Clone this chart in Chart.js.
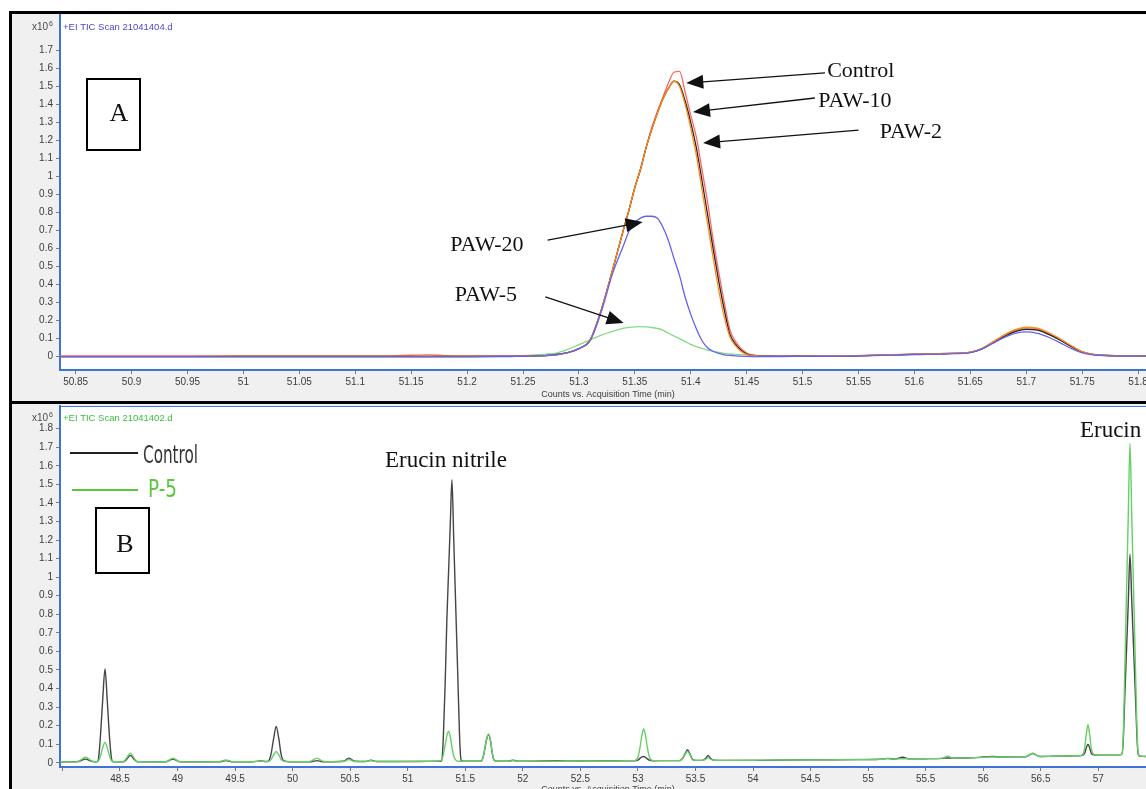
<!DOCTYPE html>
<html><head><meta charset="utf-8">
<script src="https://cdn.jsdelivr.net/npm/chart.js@4.4.1/dist/chart.umd.min.js"></script>
<style>
html,body{margin:0;padding:0;width:1146px;height:789px;overflow:hidden;background:#fff;}
.panel{position:absolute;left:9px;background:#f0f0f0;border-left:3px solid #000;border-top:3px solid #000;width:1160px;overflow:hidden;}
#pa{top:11px;height:387px;}
#pb{top:401px;height:400px;}
canvas{position:absolute;left:0;top:0;}
</style></head><body>
<div class="panel" id="pa"><canvas id="ca" width="1144" height="386"></canvas></div>
<div class="panel" id="pb"><canvas id="cb" width="1144" height="391"></canvas></div>
<script>
// ---------------- Panel A data (x10^6 counts vs time, min) ----------------
const timeA = [50.836,50.9,51.0,51.1,51.13,51.15,51.165,51.18,51.2,51.24,51.26,51.27,51.28,51.29,51.30,51.31,51.32,51.33,51.34,51.345,51.35,51.355,51.36,51.365,51.37,51.375,51.38,51.385,51.39,51.395,51.40,51.405,51.41,51.415,51.42,51.425,51.43,51.435,51.44,51.45,51.46,51.47,51.48,51.5,51.55,51.6,51.63,51.65,51.66,51.67,51.68,51.69,51.70,51.71,51.72,51.73,51.74,51.75,51.76,51.77,51.78,51.8,51.817];
const controlA = [0.004,0.004,0.004,0.004,0.005,0.008,0.01,0.006,0.004,0.004,0.004,0.006,0.012,0.022,0.045,0.092,0.26,0.48,0.71,0.82,0.94,1.04,1.16,1.27,1.36,1.44,1.52,1.58,1.585,1.47,1.34,1.22,1.04,0.86,0.65,0.47,0.3,0.15,0.085,0.02,0.006,0.004,0.004,0.004,0.006,0.014,0.018,0.025,0.044,0.08,0.117,0.146,0.16,0.155,0.131,0.098,0.06,0.027,0.013,0.008,0.006,0.005,0.005];
const paw2A = [0,0,0.001,0.001,0.001,0.001,0.001,0.001,0.001,0.002,0.003,0.006,0.012,0.022,0.045,0.092,0.26,0.48,0.71,0.82,0.94,1.04,1.16,1.26,1.35,1.43,1.49,1.53,1.5,1.4,1.27,1.12,0.93,0.74,0.55,0.37,0.22,0.11,0.06,0.012,0.005,0.003,0.002,0.003,0.006,0.014,0.018,0.025,0.045,0.082,0.12,0.15,0.164,0.158,0.133,0.1,0.062,0.028,0.013,0.008,0.006,0.005,0.005];
const paw10A = [0,0,0.001,0.001,0.001,0.001,0.001,0.001,0.001,0.002,0.003,0.006,0.012,0.022,0.045,0.092,0.26,0.48,0.71,0.82,0.94,1.04,1.16,1.26,1.35,1.43,1.49,1.53,1.51,1.42,1.3,1.16,0.98,0.79,0.6,0.42,0.26,0.125,0.07,0.015,0.005,0.003,0.002,0.003,0.005,0.013,0.017,0.024,0.042,0.076,0.111,0.139,0.152,0.147,0.124,0.093,0.057,0.026,0.012,0.007,0.005,0.004,0.004];
const paw20A = [0,0,0,0,0,0,0,0,0,0.001,0.003,0.006,0.012,0.022,0.045,0.09,0.25,0.46,0.62,0.70,0.745,0.77,0.78,0.78,0.77,0.72,0.645,0.545,0.45,0.33,0.235,0.155,0.09,0.05,0.03,0.018,0.01,0.007,0.005,0.002,0.001,0.001,0.001,0.002,0.004,0.012,0.016,0.023,0.042,0.074,0.106,0.13,0.138,0.13,0.108,0.078,0.046,0.021,0.01,0.006,0.004,0.003,0.003];
const paw5A = [0,0,0,0,0,0,0,0,0,0.004,0.01,0.014,0.02,0.04,0.067,0.093,0.12,0.14,0.158,0.163,0.166,0.167,0.165,0.162,0.157,0.148,0.13,0.115,0.1,0.084,0.068,0.056,0.046,0.037,0.03,0.024,0.018,0.015,0.013,0.01,0.006,0.003,0.002,0.003,0.005,0.014,0.018,0.025,0.043,0.078,0.113,0.142,0.155,0.15,0.127,0.095,0.058,0.027,0.013,0.008,0.006,0.005,0.005];

// ---------------- Panel B data ----------------
const timeB = [47.979,48.08,48.14,48.2,48.26,48.3,48.315,48.33,48.35,48.37,48.39,48.41,48.425,48.44,48.53,48.56,48.59,48.62,48.65,48.75,48.9,48.96,49.02,49.15,49.36,49.42,49.48,49.65,49.72,49.77,49.79,49.81,49.835,49.857,49.88,49.9,49.925,49.97,50.1,50.16,50.21,50.26,50.35,50.44,50.49,50.54,50.63,50.68,50.73,50.9,51.1,51.25,51.28,51.29,51.30,51.31,51.325,51.34,51.355,51.37,51.384,51.40,51.42,51.435,51.45,51.46,51.47,51.52,51.6,51.64,51.655,51.67,51.685,51.703,51.72,51.735,51.75,51.77,51.86,51.915,51.97,52.1,52.3,52.5,52.7,52.9,52.97,53.0,53.02,53.035,53.05,53.065,53.08,53.1,53.13,53.25,53.36,53.39,53.41,53.43,53.45,53.47,53.5,53.56,53.59,53.61,53.63,53.66,53.75,54.0,54.3,54.6,54.9,55.1,55.17,55.23,55.3,55.36,55.5,55.64,55.69,55.74,55.9,56.0,56.08,56.15,56.25,56.37,56.43,56.49,56.6,56.75,56.83,56.86,56.88,56.895,56.91,56.925,56.94,56.97,57.05,57.15,57.2,57.215,57.23,57.245,57.26,57.275,57.29,57.305,57.32,57.335,57.345,57.36,57.42,57.5];
const controlB = [0.005,0.005,0.007,0.02,0.007,0.006,0.03,0.14,0.34,0.505,0.33,0.13,0.03,0.006,0.006,0.02,0.04,0.02,0.006,0.005,0.006,0.02,0.006,0.005,0.005,0.012,0.005,0.006,0.01,0.007,0.01,0.04,0.13,0.196,0.13,0.045,0.01,0.006,0.006,0.006,0.012,0.006,0.006,0.008,0.025,0.008,0.007,0.014,0.007,0.007,0.007,0.008,0.008,0.009,0.03,0.15,0.42,0.77,1.03,1.29,1.525,1.2,0.78,0.47,0.15,0.03,0.01,0.008,0.008,0.01,0.03,0.075,0.125,0.152,0.115,0.05,0.015,0.009,0.008,0.014,0.008,0.009,0.011,0.01,0.011,0.011,0.011,0.015,0.025,0.032,0.034,0.03,0.022,0.014,0.011,0.012,0.012,0.025,0.05,0.07,0.05,0.022,0.013,0.013,0.025,0.04,0.025,0.014,0.013,0.013,0.015,0.016,0.017,0.019,0.024,0.02,0.03,0.021,0.022,0.024,0.026,0.025,0.027,0.031,0.034,0.031,0.032,0.033,0.05,0.034,0.035,0.037,0.038,0.04,0.05,0.08,0.1,0.08,0.05,0.042,0.043,0.043,0.044,0.1,0.36,0.61,0.86,1.124,0.88,0.64,0.4,0.15,0.05,0.036,0.034,0.034];
const p5B = [0.005,0.005,0.008,0.03,0.008,0.006,0.012,0.035,0.08,0.11,0.08,0.035,0.012,0.006,0.007,0.028,0.052,0.028,0.007,0.005,0.006,0.025,0.006,0.005,0.006,0.015,0.006,0.006,0.009,0.006,0.008,0.016,0.042,0.061,0.042,0.018,0.008,0.006,0.006,0.009,0.025,0.009,0.006,0.007,0.017,0.007,0.007,0.012,0.007,0.007,0.008,0.008,0.01,0.014,0.022,0.045,0.095,0.145,0.17,0.14,0.085,0.035,0.013,0.009,0.008,0.008,0.008,0.008,0.008,0.01,0.03,0.078,0.128,0.156,0.118,0.052,0.016,0.009,0.008,0.012,0.008,0.009,0.009,0.01,0.01,0.011,0.012,0.03,0.09,0.15,0.182,0.15,0.09,0.03,0.012,0.012,0.012,0.023,0.045,0.062,0.045,0.02,0.013,0.013,0.02,0.028,0.02,0.014,0.013,0.014,0.015,0.016,0.018,0.019,0.022,0.02,0.022,0.021,0.022,0.024,0.036,0.025,0.027,0.029,0.032,0.031,0.032,0.033,0.052,0.034,0.035,0.037,0.038,0.042,0.075,0.15,0.205,0.15,0.075,0.043,0.043,0.043,0.044,0.12,0.5,0.92,1.33,1.72,1.34,0.96,0.58,0.2,0.06,0.037,0.034,0.034];

// ---------------- axis ranges, ticks, annotations ----------------
const xRangeA = [50.836, 51.816], yRangeA = [-0.074, 1.898];
const xRangeB = [47.979, 57.501], yRangeB = [-0.0226, 1.922];
const xStepA = 0.05, xStepB = 0.5, yStep = 0.1;
const yTopTickA = 1.7, yTopTickB = 1.8;
const seriesNamesA = ['PAW-20','PAW-2','PAW-10','Control','PAW-5'];
const labelTextA = ['Control','PAW-10','PAW-2','PAW-20','PAW-5'];
const labelPosA = [[51.522,1.554],[51.514,1.387],[51.569,1.215],[51.185,0.587],[51.189,0.31]];
const arrowTailA = [[51.52,1.576],[51.511,1.437],[51.55,1.259],[51.272,0.648],[51.27,0.332]];
const arrowTipA = [[51.396,1.52],[51.402,1.359],[51.411,1.187],[51.357,0.748],[51.34,0.187]];
const seriesNamesB = ['P-5','Control'];
const peakTextB = ['Erucin nitrile','Erucin'];
const peakPosB = [[50.802,1.594],[56.84,1.755]];

const SANS = 'Liberation Sans, Arial, sans-serif';
const SERIF = 'Liberation Serif, Times New Roman, serif';
const NARROW = 'Liberation Sans Narrow, DejaVu Sans Condensed, Liberation Sans, sans-serif';
const toXY = (ts, vs) => ts.map((t, i) => ({x: t, y: vs[i]}));

function opts(xr, yr, xStep, xFmt, yTop, xAxisH, padTop) {
  return {
    responsive: false, animation: false, devicePixelRatio: 1, events: [],
    layout: {padding: {top: padTop, left: 0, right: 0, bottom: 0}},
    plugins: {legend: {display: false}, tooltip: {enabled: false}},
    elements: {point: {radius: 0, hoverRadius: 0}, line: {cubicInterpolationMode: 'monotone', fill: false}},
    scales: {
      x: {type: 'linear', position: 'bottom', min: xr[0], max: xr[1],
        afterFit: s => { s.height = xAxisH; s.paddingLeft = 0; s.paddingRight = 0; },
        ticks: {stepSize: xStep, includeBounds: false, autoSkip: false, maxTicksLimit: 100, maxRotation: 0, minRotation: 0, padding: 2,
          color: '#3c3c3c', font: {family: SANS, size: 10}, callback: xFmt},
        grid: {drawOnChartArea: false, drawTicks: true, tickLength: 4, color: '#7a7a7a'},
        border: {display: true, color: '#3f74d6', width: 2},
        title: {display: true, text: 'Counts vs. Acquisition Time (min)', color: '#3c3c3c', font: {family: SANS, size: 9}, padding: {top: 0, bottom: 0}}},
      y: {type: 'linear', position: 'left', min: yr[0], max: yr[1],
        afterFit: s => { s.width = 48; s.paddingTop = 0; s.paddingBottom = 0; },
        afterBuildTicks: s => { s.ticks = s.ticks.filter(t => t.value <= yTop + 1e-6); },
        ticks: {stepSize: yStep, includeBounds: false, autoSkip: false, maxTicksLimit: 100, padding: 3,
          color: '#3c3c3c', font: {family: SANS, size: 10}, callback: v => String(Math.round(v * 10) / 10)},
        grid: {drawOnChartArea: false, drawTicks: true, tickLength: 4, color: '#7a7a7a'},
        border: {display: true, color: '#3f74d6', width: 2}}
    }
  };
}

function arrow(ctx, x1, y1, x2, y2) {
  const a = Math.atan2(y2 - y1, x2 - x1), L = 17, W = 7;
  const c = Math.cos(a), s = Math.sin(a);
  ctx.beginPath(); ctx.moveTo(x1, y1); ctx.lineTo(x2 - L * 0.8 * c, y2 - L * 0.8 * s); ctx.stroke();
  ctx.beginPath(); ctx.moveTo(x2, y2);
  ctx.lineTo(x2 - L * c + W * s, y2 - L * s - W * c);
  ctx.lineTo(x2 - L * c - W * s, y2 - L * s + W * c);
  ctx.closePath(); ctx.fill();
}

function header(ctx, ca, fileText, fileColor) {
  ctx.fillStyle = '#4a4a4a'; ctx.textBaseline = 'middle';
  ctx.font = '10px ' + SANS; ctx.textAlign = 'right';
  ctx.fillText('x10', ca.left - 12, ca.top + 12);
  ctx.font = '7px ' + SANS; ctx.textAlign = 'left';
  ctx.fillText('6', ca.left - 11, ca.top + 9);
  ctx.font = '9.5px ' + SANS; ctx.fillStyle = fileColor;
  ctx.fillText(fileText, ca.left + 3, ca.top + 12);
}

function boxLetter(ctx, ca, bx, by, bw, bh, letter, lx, ly) {
  ctx.fillStyle = '#fff'; ctx.fillRect(ca.left + bx, ca.top + by, bw, bh);
  ctx.strokeStyle = '#000'; ctx.lineWidth = 2; ctx.strokeRect(ca.left + bx, ca.top + by, bw, bh);
  ctx.fillStyle = '#111'; ctx.font = '26px ' + SERIF; ctx.textAlign = 'center'; ctx.textBaseline = 'middle';
  ctx.fillText(letter, ca.left + lx, ca.top + ly);
}

const plotBg = {id: 'plotBg', beforeDraw(chart) {
  const {ctx, chartArea: ca} = chart; ctx.save(); ctx.fillStyle = '#fff';
  ctx.fillRect(ca.left, ca.top, ca.right - ca.left, ca.bottom - ca.top); ctx.restore();
}};

const decoA = {id: 'decoA', afterDraw(chart) {
  const {ctx, chartArea: ca, scales: {x, y}} = chart; ctx.save();
  header(ctx, ca, '+EI TIC Scan 21041404.d', '#4848d8');
  boxLetter(ctx, ca, 27, 64, 53, 71, 'A', 59, 99);
  ctx.strokeStyle = '#111'; ctx.fillStyle = '#111'; ctx.lineWidth = 1.3;
  arrowTailA.forEach((t, i) => arrow(ctx, x.getPixelForValue(t[0]), y.getPixelForValue(t[1]),
    x.getPixelForValue(arrowTipA[i][0]), y.getPixelForValue(arrowTipA[i][1])));
  ctx.font = '22px ' + SERIF; ctx.textAlign = 'left'; ctx.textBaseline = 'alphabetic';
  labelTextA.forEach((s, i) => ctx.fillText(s, x.getPixelForValue(labelPosA[i][0]), y.getPixelForValue(labelPosA[i][1])));
  ctx.restore();
}};

function narrowText(ctx, s, x0, y0, targetW) {
  const w = ctx.measureText(s).width;
  ctx.save(); ctx.translate(x0, y0); ctx.scale(targetW / w, 1); ctx.fillText(s, 0, 0); ctx.restore();
}

const decoB = {id: 'decoB', afterDraw(chart) {
  const {ctx, chartArea: ca, scales: {x, y}} = chart; ctx.save();
  ctx.strokeStyle = '#3f74d6'; ctx.lineWidth = 1;
  ctx.beginPath(); ctx.moveTo(ca.left, ca.top + 0.5); ctx.lineTo(ca.right, ca.top + 0.5); ctx.stroke();
  header(ctx, ca, '+EI TIC Scan 21041402.d', '#3cbf3c');
  boxLetter(ctx, ca, 36, 102, 53, 65, 'B', 65, 139);
  // legend
  ctx.lineWidth = 2;
  ctx.strokeStyle = '#222'; ctx.beginPath(); ctx.moveTo(ca.left + 10, ca.top + 47); ctx.lineTo(ca.left + 78, ca.top + 47); ctx.stroke();
  ctx.strokeStyle = '#5ac83c'; ctx.beginPath(); ctx.moveTo(ca.left + 12, ca.top + 84); ctx.lineTo(ca.left + 78, ca.top + 84); ctx.stroke();
  ctx.font = '24px ' + NARROW; ctx.textAlign = 'left'; ctx.textBaseline = 'middle';
  ctx.fillStyle = '#333'; narrowText(ctx, seriesNamesB[1], ca.left + 83, ca.top + 51, 55);
  ctx.fillStyle = '#5ac83c'; narrowText(ctx, seriesNamesB[0], ca.left + 88, ca.top + 85, 29);
  // peak names
  ctx.fillStyle = '#111'; ctx.font = '23px ' + SERIF; ctx.textBaseline = 'alphabetic';
  peakTextB.forEach((s, i) => ctx.fillText(s, x.getPixelForValue(peakPosB[i][0]), y.getPixelForValue(peakPosB[i][1])));
  ctx.restore();
}};

new Chart(document.getElementById('ca'), {
  type: 'line',
  data: {datasets: [
    {label: seriesNamesA[0], data: toXY(timeA, paw20A), borderColor: '#6262f2', borderWidth: 1.3},
    {label: seriesNamesA[1], data: toXY(timeA, paw2A), borderColor: '#ff8c1a', borderWidth: 1.3},
    {label: seriesNamesA[2], data: toXY(timeA, paw10A), borderColor: '#262626', borderWidth: 1.3},
    {label: seriesNamesA[3], data: toXY(timeA, controlA), borderColor: '#ff6464', borderWidth: 1.3},
    {label: seriesNamesA[4], data: toXY(timeA, paw5A), borderColor: '#82dc82', borderWidth: 1.3}
  ]},
  options: opts(xRangeA, yRangeA, xStepA, v => String(Math.round(v * 100) / 100), yTopTickA, 30, 1),
  plugins: [plotBg, decoA]
});

new Chart(document.getElementById('cb'), {
  type: 'line',
  data: {datasets: [
    {label: seriesNamesB[0], data: toXY(timeB, p5B), borderColor: '#66d066', borderWidth: 1.4},
    {label: seriesNamesB[1], data: toXY(timeB, controlB), borderColor: '#454545', borderWidth: 1.4}
  ]},
  options: opts(xRangeB, yRangeB, xStepB, v => (Math.abs(v - 48) < 1e-6 ? '' : String(Math.round(v * 10) / 10)), yTopTickB, 28, 2),
  plugins: [plotBg, decoB]
});
</script>
</body></html>
